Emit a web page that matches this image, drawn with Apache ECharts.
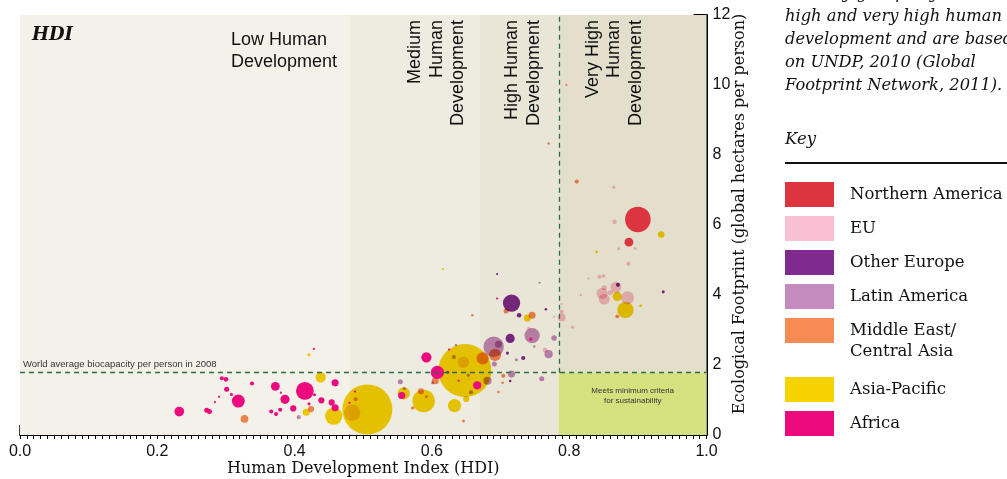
<!DOCTYPE html>
<html><head><meta charset="utf-8">
<script src="https://cdn.jsdelivr.net/npm/echarts@6/dist/echarts.min.js"></script>
<style>html,body{margin:0;padding:0;background:#fff}#c{width:1007px;height:479px}</style>
</head><body><div id="c"></div>
<script>
// ---- data ----
const regions = ['Northern America','EU','Other Europe','Latin America','Middle East/\nCentral Asia','Asia-Pacific','Africa'];
const regionColors = ['#DC3540','#F9C0D3','#7F2A8E','#C58BBE','#F68B53','#F5D200','#EC0A7E'];
// each point: [HDI, ecological footprint (gha/person), population (millions)]
const northernAmerica = [[0.900,6.16,310],[0.887,5.51,37]];
const eu = [[0.865,7.08,5],[0.866,6.09,10],[0.872,5.32,4.5],[0.896,5.33,4.5],[0.886,4.89,8],[0.828,4.47,2],[0.844,4.52,8],[0.850,4.54,6],[0.868,4.22,57],[0.848,4.05,60],[0.851,3.88,57],[0.851,4.21,12],[0.860,4.07,12],[0.885,3.92,80],[0.817,4.00,3],[0.789,3.74,2],[0.789,3.52,8],[0.789,3.36,30],[0.805,3.08,5],[0.778,3.38,2],[0.765,2.43,12],[0.741,3.05,6]];
const otherEurope = [[0.871,4.29,8],[0.937,4.09,4.5],[0.766,3.59,3],[0.695,4.60,2],[0.716,3.77,143],[0.727,3.42,10],[0.714,2.76,40],[0.710,2.34,4.5],[0.733,2.20,8],[0.714,1.54,3],[0.623,1.79,4]];
const latinAmerica = [[0.757,4.35,2],[0.746,2.84,112],[0.690,2.52,198],[0.697,2.59,24],[0.635,2.57,3],[0.749,2.53,3],[0.778,2.77,15],[0.770,2.31,32],[0.691,2.03,12],[0.723,2.15,4.5],[0.760,1.61,12],[0.716,1.74,24],[0.554,1.52,12],[0.601,1.49,4.5],[0.406,0.51,8],[0.632,2.23,8],[0.653,1.71,4.5],[0.657,1.22,8],[0.681,1.55,32],[0.560,1.33,4.5]];
const middleEast = [[0.770,8.33,3],[0.796,10.0,1.5],[0.811,7.24,8],[0.870,3.39,7],[0.708,3.54,12],[0.746,3.42,24],[0.659,3.42,3],[0.674,2.19,71],[0.692,2.29,71],[0.704,1.69,8],[0.703,1.49,3],[0.697,1.23,3],[0.584,1.25,18],[0.592,1.10,4.5],[0.572,0.77,6],[0.646,0.40,4.5],[0.605,1.55,24],[0.327,0.46,28],[0.424,0.74,18],[0.489,1.02,8]];
const asiaPacific = [[0.934,5.73,21],[0.840,5.23,3.5],[0.870,3.96,40],[0.882,3.57,127],[0.904,3.69,3.5],[0.739,3.34,24],[0.616,4.74,2],[0.648,1.84,1340],[0.646,2.08,60],[0.506,0.73,1190],[0.484,0.64,127],[0.559,1.19,71],[0.588,0.97,240],[0.633,0.84,84],[0.650,1.03,18],[0.438,1.65,50],[0.421,2.29,4.5],[0.417,0.65,24],[0.457,0.54,143]];
const africa = [[0.695,3.90,1.5],[0.744,2.74,4.5],[0.625,2.44,2],[0.592,2.22,50],[0.608,1.79,84],[0.666,1.42,32],[0.639,1.55,2],[0.556,1.13,24],[0.428,2.46,2],[0.459,1.49,24],[0.294,1.62,8],[0.300,1.59,10],[0.338,1.47,8],[0.372,1.39,37],[0.301,1.31,12],[0.308,1.16,4.5],[0.290,1.09,2],[0.284,0.94,2],[0.318,0.97,80],[0.380,1.21,2],[0.386,1.02,40],[0.415,1.26,150],[0.429,1.15,4.5],[0.439,0.99,18],[0.454,0.93,18],[0.459,0.78,24],[0.398,0.76,18],[0.379,0.72,8],[0.373,0.60,8],[0.366,0.67,8],[0.232,0.67,45],[0.272,0.71,12],[0.276,0.67,12],[0.421,0.89,4.5],[0.488,1.24,2],[0.480,0.92,2]];
const regionData = [northernAmerica, eu, otherEurope, latinAmerica, middleEast, asiaPacific, africa];

const bandEdges = [0, 0.48, 0.67, 0.785, 1.0];
const bandColors = ['#F4F1E9','#EEEBE0','#E9E6D8','#E4DFCD'];
const worldBiocapacity = 1.78;
const veryHighThreshold = 0.785;
const xTicks = {min: 0, max: 1, interval: 0.1};
const yTicks = {min: 0, max: 12, interval: 2};
const noteLines = ['Country groups by HDI: low, medium,','high and very high human','development and are based','on UNDP, 2010 (Global','Footprint Network, 2011).'];

// ---- chart ----
const chart = echarts.init(document.getElementById('c'), null, {renderer: 'canvas'});
const sizeOf = d => Math.max(2.2, 1.45 * Math.sqrt(d[2]));

const bandAreas = [];
for (let i = 0; i < bandColors.length; i++) {
  bandAreas.push([{xAxis: bandEdges[i], yAxis: yTicks.min, itemStyle: {color: bandColors[i]}}, {xAxis: bandEdges[i + 1], yAxis: yTicks.max}]);
}
bandAreas.push([{xAxis: veryHighThreshold, yAxis: 0, itemStyle: {color: '#D4E17F'},
  label: {show: true, position: 'insideTop', distance: 13, formatter: 'Meets minimum criteria\nfor sustainability',
    fontSize: 8, lineHeight: 10, color: '#333', fontFamily: 'Liberation Sans'}},
  {xAxis: bandEdges[4], yAxis: worldBiocapacity}]);

const drawOrder = [3, 4, 2, 1, 5, 0, 6];
const series = [{
  type: 'scatter', data: [], silent: true, z: 1,
  markArea: {silent: true, label: {show: false}, data: bandAreas},
  markLine: {silent: true, symbol: 'none',
    lineStyle: {color: '#2F6B45', type: [5, 4], width: 1.3},
    data: [
      [{coord: [xTicks.min, worldBiocapacity],
        label: {show: true, position: 'insideStartTop', distance: 3, formatter: 'World average biocapacity per person in 2008',
          fontSize: 9.5, color: '#333', fontFamily: 'Liberation Sans'}},
       {coord: [xTicks.max, worldBiocapacity]}],
      [{coord: [veryHighThreshold, worldBiocapacity], label: {show: false}}, {coord: [veryHighThreshold, yTicks.max]}]
    ]}
}];
drawOrder.forEach(i => {
  const normal = (i === 6 || i === 0);
  series.push({
    name: regions[i], type: 'scatter', data: regionData[i], symbolSize: sizeOf,
    itemStyle: {color: regionColors[i], opacity: 1}, z: normal ? 4 : 3,
    blendMode: normal ? 'source-over' : 'multiply', silent: true
  });
});

const T = (extra) => Object.assign({type: 'text', z: 100}, extra);
const graphics = [
  T({x: 32, y: 35, style: {text: 'HDI', font: 'italic bold 18px "DejaVu Serif"', fill: '#111', verticalAlign: 'middle', textVerticalAlign: 'middle'}}),
  T({x: 231, y: 51, style: {text: 'Low Human\nDevelopment', font: '18px "Liberation Sans"', lineHeight: 22, fill: '#111', verticalAlign: 'middle', textVerticalAlign: 'middle'}}),
  T({x: 437, y: 20, rotation: Math.PI / 2, style: {text: 'Medium\nHuman\nDevelopment', font: '18px "Liberation Sans"', lineHeight: 21.5, fill: '#111', align: 'right', textAlign: 'right', verticalAlign: 'middle', textVerticalAlign: 'middle'}}),
  T({x: 523.5, y: 20, rotation: Math.PI / 2, style: {text: 'High Human\nDevelopment', font: '18px "Liberation Sans"', lineHeight: 22, fill: '#111', align: 'right', textAlign: 'right', verticalAlign: 'middle', textVerticalAlign: 'middle'}}),
  T({x: 614.5, y: 20, rotation: Math.PI / 2, style: {text: 'Very High\nHuman\nDevelopment', font: '18px "Liberation Sans"', lineHeight: 21.5, fill: '#111', align: 'right', textAlign: 'right', verticalAlign: 'middle', textVerticalAlign: 'middle'}}),
  T({x: 785, y: 140, style: {text: 'Key', font: 'italic 16.5px "DejaVu Serif"', fill: '#111', verticalAlign: 'middle', textVerticalAlign: 'middle'}}),
  {type: 'line', z: 100, shape: {x1: 785, y1: 163, x2: 1007, y2: 163}, style: {stroke: '#111', lineWidth: 2}}
];
noteLines.forEach((t, i) => {
  graphics.push(T({x: 785, y: -6 + i * 23, style: {text: t, font: 'italic 16.3px "DejaVu Serif"', fill: '#111', verticalAlign: 'middle', textVerticalAlign: 'middle'}}));
});
const legendTops = [182, 216, 250, 284, 318, 377, 411];
regions.forEach((r, i) => {
  graphics.push({type: 'rect', z: 100, shape: {x: 785, y: legendTops[i], width: 49, height: 25}, style: {fill: regionColors[i]}});
  graphics.push(T({x: 850, y: legendTops[i] + 2, style: {text: r, font: '16.5px "DejaVu Serif"', lineHeight: 21, fill: '#111', verticalAlign: 'top', textVerticalAlign: 'top'}}));
});

chart.setOption({
  animation: false,
  backgroundColor: '#fff',
  grid: {left: 20, right: 300.5, top: 15, bottom: 44, containLabel: false, outerBoundsMode: 'none'},
  xAxis: [{
    type: 'value', min: xTicks.min, max: xTicks.max, interval: xTicks.interval, position: 'bottom',
    axisLine: {show: true, onZero: false, lineStyle: {color: '#000', width: 2}},
    axisTick: {show: true, inside: true, length: 10, lineStyle: {color: '#000', width: 1.5}},
    axisLabel: {margin: 9, fontSize: 16, color: '#111', fontFamily: 'Liberation Sans',
      formatter: v => (Math.round(v * 10) % 2 === 0 ? v.toFixed(1) : '')},
    splitLine: {show: false},
    name: 'Human Development Index (HDI)', nameLocation: 'middle', nameGap: 26, nameMoveOverlap: false,
    nameTextStyle: {fontSize: 16, fontFamily: 'DejaVu Serif', color: '#111'}
  }, {
    type: 'value', min: xTicks.min, max: xTicks.max, interval: 0.01, position: 'bottom', offset: 0,
    axisLine: {show: false, onZero: false}, axisLabel: {show: false}, splitLine: {show: false},
    axisTick: {show: true, inside: false, length: 4, lineStyle: {color: '#000', width: 1}}
  }],
  yAxis: {
    type: 'value', position: 'right', min: yTicks.min, max: yTicks.max, interval: yTicks.interval,
    axisLine: {show: true, onZero: false, lineStyle: {color: '#000', width: 2}},
    axisTick: {show: true, inside: true, length: 13, lineStyle: {color: '#000', width: 2}},
    axisLabel: {margin: 6, fontSize: 16, color: '#111', fontFamily: 'Liberation Sans'},
    splitLine: {show: false},
    name: 'Ecological Footprint (global hectares per person)', nameLocation: 'middle', nameGap: 25, nameRotate: 90, nameMoveOverlap: false,
    nameTextStyle: {fontSize: 16, fontFamily: 'DejaVu Serif', color: '#111', padding: [0, 0, 0, 22]}
  },
  series: series,
  graphic: graphics
});
</script></body></html>
